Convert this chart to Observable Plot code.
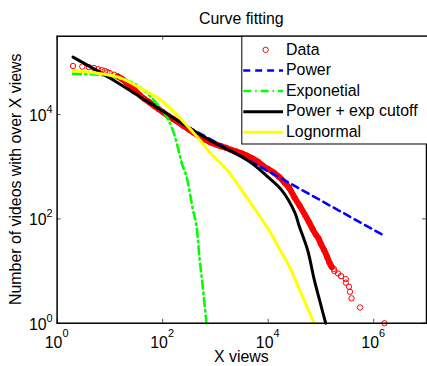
<!DOCTYPE html>
<html><head><meta charset="utf-8">
<script src="https://cdn.jsdelivr.net/npm/d3@7"></script>
<script src="https://cdn.jsdelivr.net/npm/@observablehq/plot@0.6"></script>
<style>html,body{margin:0;padding:0;background:#fff;overflow:hidden;width:427px;height:366px}</style>
</head><body><div id="chart"></div>
<script>
// Data (CCDF of views)
const dataX = [2,3,4,5,6,7,8,9,10,12,14,17,20,25,30,37,45,55,70,85,100,130,160,200,250,320,400,500,650,800,1000,1300,1600,2000,2500,3200,4000,5000,6500,8000,1e4,1.3e4,1.6e4,2e4,2.5e4,3.2e4,4e4,5e4,6e4,7e4,8e4,9e4,1e5,1.15e5,1.3e5,1.45e5,1.6e5,1.75e5,1.8e5,2.1e5,2.4e5,2.95e5,2.95e5,3.4e5,3.55e5,3.8e5,5.5e5,1.6e6];
const dataY = [85000,83000,81000,78000,74000,71000,68000,65000,62000,58000,54000,48000,42000,34000,29000,23500,20000,17400,14500,12600,11200,9300,8100,7100,6000,5100,4400,3800,3300,2950,2700,2450,2300,2100,1950,1780,1620,1440,1230,1040,900,760,640,510,390,250,175,118,85,63,50,42,33,25,19,14.5,12,11,10,9,8,7,6,5,4,3,2,1];
// Power
const powerX = [300, 1e4, 1.55e6];
const powerY = [5800, 820, 48];
// Exponential
const expoX = [2, 6.5, 24, 42, 105, 155, 240, 282, 372, 437, 500, 562, 676];
const expoY = [60000, 57500, 42700, 30200, 11000, 5100, 1020, 660, 155, 74, 17.4, 6.3, 1];
// Power + exp cutoff
const cutX = [2, 10, 37, 100, 500, 1000, 4400, 1e4, 1.8e4, 3.2e4, 3.85e4, 5.6e4, 7.4e4, 1e5, 1.23e5];
const cutY = [126000, 50000, 21900, 11700, 4170, 2820, 1260, 630, 355, 132, 74, 25, 7.1, 2.2, 1];
// Lognormal
const logX = [2, 5, 14, 37, 100, 250, 500, 776, 1620, 4000, 10500, 16200, 25100, 40000, 74000];
const logY = [69000, 63000, 52500, 32400, 17800, 7200, 3300, 1900, 890, 250, 59, 27, 12.3, 4.2, 1];

const xTicks = [1, 100, 1e4, 1e6];
const xExp = ["0", "2", "4", "6"];
const yTicks = [1, 100, 1e4];
const yExp = ["0", "2", "4"];
const legendLabels = ["Data", "Power", "Exponetial", "Power + exp cutoff", "Lognormal"];
const titleText = "Curve fitting";
const xLabel = "X views";
const yLabel = "Number of videos with over X views";

const rows = (xs, ys) => xs.map((x, i) => ({x, y: ys[i]}));
const data = rows(dataX, dataY);
const band = data.filter(d => d.x >= 14 && d.x <= 1.6e5);
const power = rows(powerX, powerY);
const expo = rows(expoX, expoY);
const cut = rows(cutX, cutY);
const logn = rows(logX, logY);

const W = 430, H = 366, mL = 57, mR = 1, mT = 36, mB = 41;
const fh = H - mT - mB, fw = W - mL - mR;
const FONT = "'Liberation Sans', Arial, Helvetica, sans-serif";

const styles = {
  power: {stroke: "#0000ff", strokeWidth: 2.6, strokeDasharray: "7,5"},
  expo: {stroke: "#00ff00", strokeWidth: 2.6, strokeDasharray: "8,4,1.5,4"},
  cut: {stroke: "#000000", strokeWidth: 3},
  logn: {stroke: "#ffff00", strokeWidth: 3}
};

const chart = Plot.plot({
  width: W, height: H,
  marginLeft: mL, marginRight: mR, marginTop: mT, marginBottom: mB,
  x: {type: "log", domain: [1, 1e7], axis: null},
  y: {type: "log", domain: [1, Math.pow(10, 5.5)], axis: null},
  style: {fontFamily: FONT, fontSize: "16px", background: "#fff", color: "#000", overflow: "visible"},
  marks: [
    Plot.line(band, {x: "x", y: "y", stroke: "#ff0000", strokeWidth: 6, curve: "catmull-rom", strokeLinejoin: "round"}),
    Plot.dot(data, {x: "x", y: "y", r: 2.7, stroke: "#ff0000", strokeWidth: 1, fill: "none"}),
    Plot.line(power, {x: "x", y: "y", ...styles.power}),
    Plot.line(expo, {x: "x", y: "y", ...styles.expo, curve: "catmull-rom"}),
    Plot.line(cut, {x: "x", y: "y", ...styles.cut, curve: "catmull-rom"}),
    Plot.line(logn, {x: "x", y: "y", ...styles.logn, curve: "catmull-rom"}),
    Plot.tickX(xTicks, {x: d => d, insetTop: fh - 4, stroke: "#555", strokeWidth: 1}),
    Plot.tickX(xTicks, {x: d => d, insetBottom: fh - 4, stroke: "#555", strokeWidth: 1}),
    Plot.tickY(yTicks, {y: d => d, insetRight: fw - 4, stroke: "#555", strokeWidth: 1}),
    Plot.tickY(yTicks, {y: d => d, insetLeft: fw - 4, stroke: "#555", strokeWidth: 1}),
    Plot.frame({stroke: "#000", strokeWidth: 1.5})
  ]
});
document.getElementById("chart").appendChild(chart);

const sx = chart.scale("x"), sy = chart.scale("y");
const svg = d3.select(chart);
const g = svg.append("g").attr("font-family", FONT).attr("fill", "#000");

// x tick labels
xTicks.forEach((t, i) => {
  const tx = g.append("text").attr("x", sx.apply(t)).attr("y", 350)
    .attr("text-anchor", "middle").attr("font-size", 16).text("10");
  tx.append("tspan").attr("dy", -10.5).attr("font-size", 11).text(xExp[i]);
});
// y tick labels
yTicks.forEach((t, i) => {
  const ty = g.append("text").attr("x", 53).attr("y", sy.apply(t) + 7)
    .attr("text-anchor", "end").attr("font-size", 16).text("10");
  ty.append("tspan").attr("dy", -8).attr("font-size", 11).text(yExp[i]);
});
const cx = (mL + (W - mR)) / 2;
g.append("text").attr("x", cx).attr("y", 24).attr("text-anchor", "middle").attr("font-size", 16).text(titleText);
g.append("text").attr("x", cx).attr("y", 365).attr("text-anchor", "middle").attr("font-size", 16).text(xLabel);
g.append("text").attr("transform", `translate(21,${(mT + H - mB) / 2}) rotate(-90)`)
  .attr("text-anchor", "middle").attr("font-size", 16).text(yLabel);

// legend
const lg = svg.append("g").attr("font-family", FONT);
lg.append("rect").attr("x", 243.5).attr("y", 36.5).attr("width", 200).attr("height", 108.5)
  .attr("fill", "#fff").attr("stroke", "#000").attr("stroke-width", 1);
const base = [55, 75.75, 96.5, 117.25, 138];
const lineStyles = [null, styles.power, styles.expo, styles.cut, styles.logn];
legendLabels.forEach((lab, i) => {
  const yy = base[i] - 4.8;
  if (i === 0) {
    lg.append("circle").attr("cx", 267.5).attr("cy", yy).attr("r", 2.7)
      .attr("fill", "none").attr("stroke", "#ff0000").attr("stroke-width", 1);
  } else {
    const s = lineStyles[i];
    lg.append("line").attr("x1", 245).attr("x2", 285).attr("y1", yy).attr("y2", yy)
      .attr("stroke", s.stroke).attr("stroke-width", s.strokeWidth)
      .attr("stroke-dasharray", s.strokeDasharray || null);
  }
  lg.append("text").attr("x", 288).attr("y", base[i]).attr("text-anchor", "start")
    .attr("font-size", 16).attr("fill", "#000").text(lab);
});
</script>
</body></html>
